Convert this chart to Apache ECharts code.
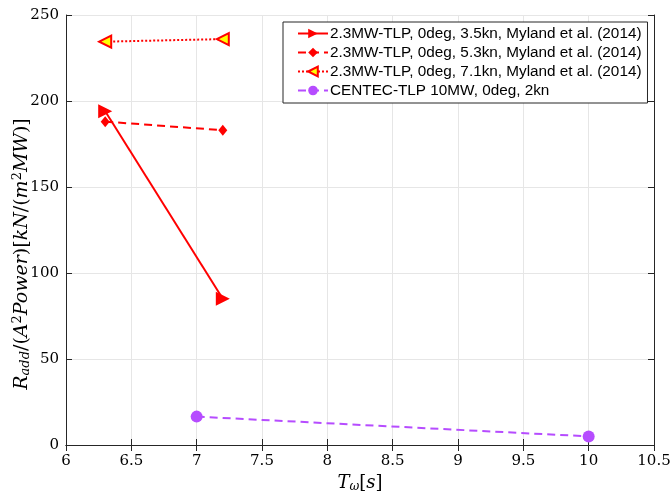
<!DOCTYPE html>
<html>
<head>
<meta charset="utf-8">
<script src="https://cdn.jsdelivr.net/npm/echarts@6/dist/echarts.min.js"></script>
<style>
  html, body { margin: 0; padding: 0; background: #fff; }
  #chart { width: 670px; height: 492px; }
</style>
</head>
<body>
<div id="chart"></div>
<script>
// data
var names = [
  '2.3MW-TLP, 0deg, 3.5kn, Myland et al. (2014)',
  '2.3MW-TLP, 0deg, 5.3kn, Myland et al. (2014)',
  '2.3MW-TLP, 0deg, 7.1kn, Myland et al. (2014)',
  'CENTEC-TLP 10MW, 0deg, 2kn'
];
var tMyland = [6.3, 7.2];
var r35 = [194, 85];
var r53 = [188, 183];
var r71 = [234.5, 236];
var tCentec = [7, 10];
var rCentec = [16.5, 5];

function pairs(xs, ys) {
  return xs.map(function (x, i) { return [x, ys[i]]; });
}

var axisCol = '#262626';
var gridCol = '#e6e6e6';
var serif = 'DejaVu Serif';

// latex-ish label styles
var mathRich = function (size) {
  return {
    it: { fontFamily: serif, fontStyle: 'italic', fontSize: size, color: '#000' },
    n: { fontFamily: serif, fontSize: size, color: '#000' },
    sub: { fontFamily: serif, fontStyle: 'italic', fontSize: Math.round(size * 0.68), color: '#000', padding: [8, 0, 0, 0] },
    sup: { fontFamily: serif, fontSize: Math.round(size * 0.68), color: '#000', padding: [0, 0, 9, 0] }
  };
};

var chart = echarts.init(document.getElementById('chart'));
chart.setOption({
  animation: false,
  grid: { left: 66, right: 16, top: 15, bottom: 47, containLabel: false, outerBoundsMode: 'none' },
  legend: {
    left: 283, top: 22,
    orient: 'vertical',
    itemWidth: 30, itemHeight: 12, itemGap: 4,
    padding: [4, 6, 5, 14],
    borderColor: axisCol, borderWidth: 1,
    backgroundColor: '#fff',
    textStyle: { fontFamily: 'Liberation Sans', fontSize: 15.3, color: '#000', padding: [0, 0, 0, -3] },
    data: names
  },
  graphic: [{
    type: 'text',
    x: 22, y: 254, rotation: Math.PI / 2,
    style: {
      text: '{it|R}{sub|add}{n|/(}{it|A}{sup|2}{it|Power}{n|)[}{it|kN}{n|/(}{it|m}{sup|2}{it|MW}{n|)]}',
      rich: mathRich(19),
      align: 'center', verticalAlign: 'middle'
    }
  }],
  xAxis: [{
    type: 'value', min: 6, max: 10.5, interval: 0.5,
    name: '{it|T}{sub|ω}{n|[}{it|s}{n|]}',
    nameLocation: 'middle', nameGap: 26,
    nameTextStyle: { rich: mathRich(18) },
    axisLine: { lineStyle: { color: axisCol, width: 1 } },
    axisTick: { inside: true, length: 6, lineStyle: { color: axisCol } },
    axisLabel: { fontFamily: serif, fontSize: 15, color: '#000', margin: 9 },
    splitLine: { show: true, lineStyle: { color: gridCol, width: 1 } }
  }, {
    type: 'value', min: 6, max: 10.5, interval: 0.5, position: 'top',
    axisLine: { show: true, lineStyle: { color: axisCol, width: 1 } },
    axisTick: { inside: true, length: 6, lineStyle: { color: axisCol } },
    axisLabel: { show: false },
    splitLine: { show: false }
  }],
  yAxis: [{
    type: 'value', min: 0, max: 250, interval: 50,
    axisLine: { show: true, lineStyle: { color: axisCol, width: 1 } },
    axisTick: { show: true, inside: true, length: 6, lineStyle: { color: axisCol } },
    axisLabel: { fontFamily: serif, fontSize: 15, color: '#000', margin: 7 },
    splitLine: { show: true, lineStyle: { color: gridCol, width: 1 } }
  }, {
    type: 'value', min: 0, max: 250, interval: 50, position: 'right',
    axisLine: { show: true, lineStyle: { color: axisCol, width: 1 } },
    axisTick: { show: true, inside: true, length: 6, lineStyle: { color: axisCol } },
    axisLabel: { show: false },
    splitLine: { show: false }
  }],
  series: [{
    name: names[0], type: 'line', data: pairs(tMyland, r35),
    symbol: 'triangle', symbolSize: 14, symbolRotate: -90,
    lineStyle: { color: '#ff0000', width: 2, type: 'solid' },
    itemStyle: { color: '#ff0000' }
  }, {
    name: names[1], type: 'line', data: pairs(tMyland, r53),
    symbol: 'diamond', symbolSize: [9, 11],
    lineStyle: { color: '#ff0000', width: 2, type: [8, 5] },
    itemStyle: { color: '#ff0000' }
  }, {
    name: names[2], type: 'line', data: pairs(tMyland, r71),
    symbol: 'triangle', symbolSize: 12, symbolRotate: 90,
    lineStyle: { color: '#ff0000', width: 2, type: [2, 2] },
    itemStyle: { color: '#ffff00', borderColor: '#ff0000', borderWidth: 2 }
  }, {
    name: names[3], type: 'line', data: pairs(tCentec, rCentec),
    symbol: 'circle', symbolSize: 12,
    lineStyle: { color: '#b64cff', width: 2, type: [8, 5] },
    itemStyle: { color: '#b64cff' }
  }]
});
</script>
</body>
</html>
